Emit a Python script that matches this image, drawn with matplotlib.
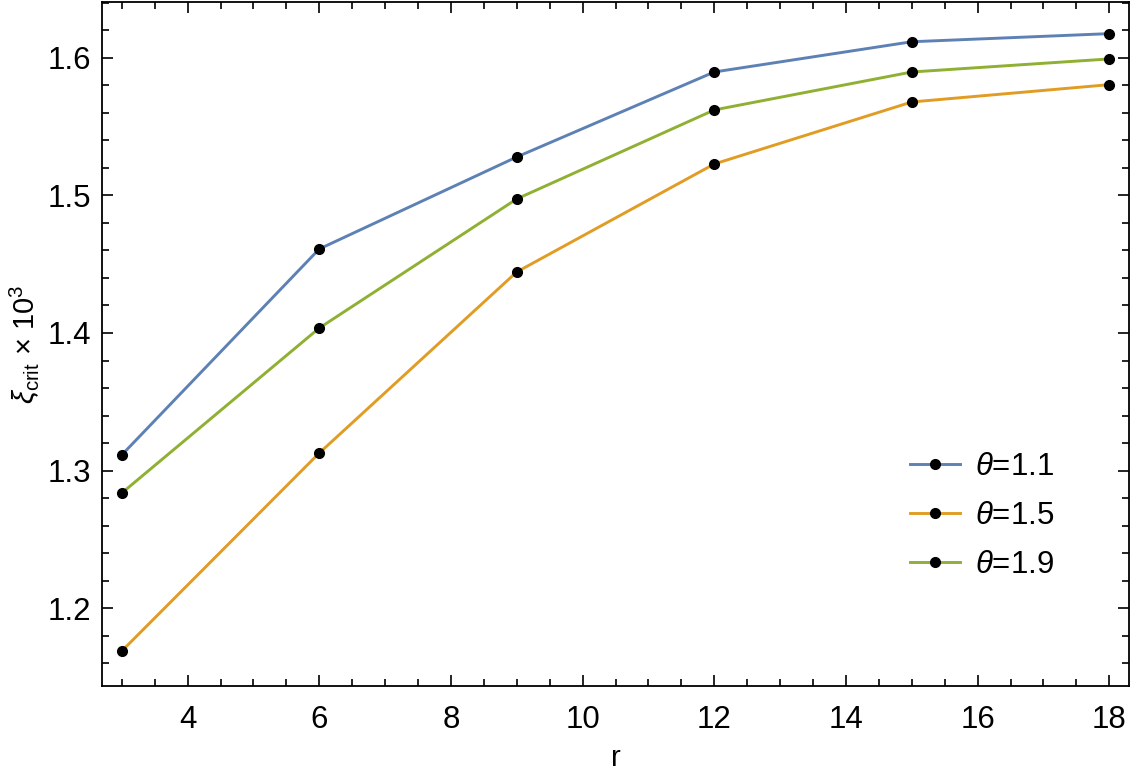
import numpy as np
import matplotlib.pyplot as plt
from matplotlib.ticker import MultipleLocator

plt.rcParams['font.family'] = ['Liberation Sans', 'DejaVu Sans']
plt.rcParams['mathtext.fontset'] = 'custom'
plt.rcParams['mathtext.rm'] = 'Liberation Sans'
plt.rcParams['mathtext.it'] = 'Liberation Sans:italic'

r = [3, 6, 9, 12, 15, 18]
xi_11 = [1.3113, 1.4611, 1.5280, 1.5898, 1.6118, 1.6177]
xi_15 = [1.1687, 1.3127, 1.4444, 1.5229, 1.5680, 1.5806]
xi_19 = [1.2836, 1.4036, 1.4975, 1.5622, 1.5898, 1.5993]
labels = [r'$\theta$=1.1', r'$\theta$=1.5', r'$\theta$=1.9']
colors = ['#5E81B5', '#E19C24', '#8FB032']

fig = plt.figure(figsize=(11.34, 7.8), dpi=100)
ax = fig.add_axes([102 / 1134, 94 / 780, 1027 / 1134, 684 / 780])

for ys, lab, c in zip([xi_11, xi_15, xi_19], labels, colors):
    ax.plot(r, ys, color=c, lw=2.1, marker='o', ms=7, mfc='black', mec='black', label=lab)

ax.set_xlim(2.7, 18.3)
ax.set_ylim(1.1433, 1.6407)
ax.xaxis.set_major_locator(MultipleLocator(2))
ax.xaxis.set_minor_locator(MultipleLocator(0.5))
ax.yaxis.set_major_locator(MultipleLocator(0.1))
ax.yaxis.set_minor_locator(MultipleLocator(0.02))
ax.tick_params(which='both', direction='in', top=True, right=True, width=1.2, labelsize=22.5)
ax.tick_params(which='major', length=8)
ax.tick_params(which='minor', length=5)
ax.tick_params(axis='x', which='major', pad=14)
ax.tick_params(axis='y', which='major', pad=8)
for s in ax.spines.values():
    s.set_linewidth(1.3)

ax.set_xlabel('r', fontsize=21, labelpad=6)
ax.set_ylabel(r'$\xi_{\mathrm{crit}}$ × 10$^3$', fontsize=21, labelpad=4)

ax.legend(loc='upper left', bbox_to_anchor=(0.759, 0.383), frameon=False, fontsize=22.5,
          handlelength=1.6, handletextpad=0.5, labelspacing=0.6)

fig.savefig('out.png', dpi=100)
